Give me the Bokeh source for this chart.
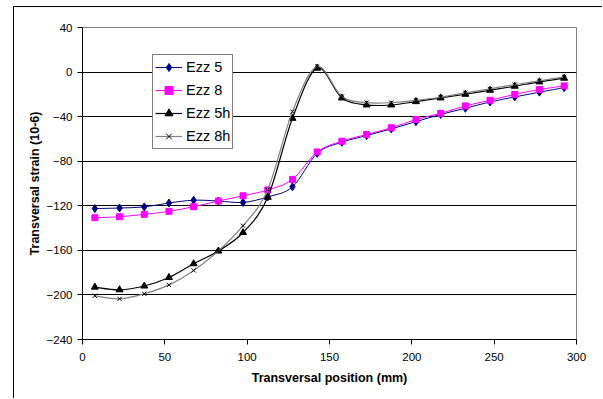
from bokeh.plotting import figure
from bokeh.models import Range1d, FixedTicker, Legend, LegendItem, ColumnDataSource
from bokeh.embed import file_html
from bokeh.resources import INLINE

positions = [7.5, 22.5, 37.5, 52.5, 67.5, 82.5, 97.5, 112.5, 127.5, 142.5,
             157.5, 172.5, 187.5, 202.5, 217.5, 232.5, 247.5, 262.5, 277.5, 292.5]
ezz5 = [-122.5, -122, -121, -117.5, -115, -115.7, -117, -112, -103, -73,
        -63, -57, -51, -44.5, -38, -32.5, -26.8, -22.3, -18, -14]
ezz8 = [-130.7, -129.8, -127.7, -125, -120.8, -115.7, -111, -105.8, -96.3, -71.7,
        -62, -56, -50, -42.6, -37, -30.4, -25.3, -20, -15.7, -12.4]
ezz5h = [-193, -195.4, -192, -184.3, -172, -160.6, -144, -112.4, -41.5, 3.5,
         -23.2, -29.5, -29.5, -26.5, -23.2, -19.9, -16.3, -12.7, -8.8, -5.5]
ezz8h = [-200.8, -203.5, -199, -191, -178, -160.6, -137.9, -105.5, -35.5, 5,
         -22, -27.4, -27.4, -25.3, -22.6, -18.7, -15.1, -11.2, -7.9, -4.3]
series_names = ["Ezz 5", "Ezz 8", "Ezz 5h", "Ezz 8h"]
x_ticks = [0, 50, 100, 150, 200, 250, 300]
y_ticks = [-240, -200, -160, -120, -80, -40, 0, 40]


def bezier_segments(xs, ys):
    d = dict(x0=[], y0=[], x1=[], y1=[], cx0=[], cy0=[], cx1=[], cy1=[])
    n = len(xs)
    for i in range(n - 1):
        x0, y0 = xs[i], ys[i]
        x1, y1 = xs[i + 1], ys[i + 1]
        xp, yp = (xs[i - 1], ys[i - 1]) if i > 0 else (x0, y0)
        xn, yn = (xs[i + 2], ys[i + 2]) if i + 2 < n else (x1, y1)
        d["x0"].append(x0); d["y0"].append(y0)
        d["x1"].append(x1); d["y1"].append(y1)
        d["cx0"].append(x0 + (x1 - xp) / 6.0); d["cy0"].append(y0 + (y1 - yp) / 6.0)
        d["cx1"].append(x1 - (xn - x0) / 6.0); d["cy1"].append(y1 - (yn - y0) / 6.0)
    return ColumnDataSource(d)


FONT = "Liberation Sans"

p = figure(width=589, height=392, output_backend="svg", toolbar_location=None,
           x_range=Range1d(0, 300), y_range=Range1d(-240, 40),
           min_border_left=68, min_border_right=27, min_border_top=20, min_border_bottom=60)
# chart-area border: only its left and top edges fall inside the window
p.margin = (7, 0, 0, 14)
p.styles = {"box-shadow": "-1px -1px 0 0 black"}

p.outline_line_color = "#808080"
p.outline_line_width = 1
p.background_fill_color = "white"
p.border_fill_color = "white"

p.xgrid.visible = False
p.ygrid.ticker = FixedTicker(ticks=y_ticks)
p.ygrid.grid_line_color = "black"
p.ygrid.grid_line_width = 1

p.xaxis.ticker = FixedTicker(ticks=x_ticks)
p.yaxis.ticker = FixedTicker(ticks=y_ticks)
for ax in (p.xaxis[0], p.yaxis[0]):
    ax.axis_line_color = "black"
    ax.major_tick_line_color = "black"
    ax.major_tick_out = 5
    ax.major_tick_in = 0
    ax.minor_tick_line_color = None
    ax.major_label_text_font = FONT
    ax.major_label_text_font_size = "11.5px"
    ax.major_label_text_color = "black"
    ax.axis_label_text_font = FONT
    ax.axis_label_text_font_size = "12.5px"
    ax.axis_label_text_font_style = "bold"
    ax.axis_label_text_color = "black"

p.xaxis.axis_label = "Transversal position (mm)"
p.yaxis.axis_label = "Transversal strain (10-6)"
p.xaxis.major_label_standoff = 8
p.yaxis.major_label_standoff = 5
p.xaxis.axis_label_standoff = 7
p.yaxis.axis_label_standoff = 2

styles = [
    dict(data=ezz5, color="#000080", lc="#000080", marker="diamond", size=8, lw=1.0),
    dict(data=ezz8, color="#FF00FF", lc="#FF00FF", marker="square", size=6, lw=1.0),
    dict(data=ezz5h, color="black", lc="black", marker="triangle", size=7, lw=1.2),
    dict(data=ezz8h, color="black", lc="#808080", marker="x", size=6, lw=1.2),
]

nan = float("nan")
items = []
for name, st in zip(series_names, styles):
    src = bezier_segments(positions, st["data"])
    p.bezier(x0="x0", y0="y0", x1="x1", y1="y1", cx0="cx0", cy0="cy0",
             cx1="cx1", cy1="cy1", source=src, line_color=st["lc"], line_width=st["lw"])
    leg_line = p.line(x=[positions[0], positions[0]], y=[nan, nan],
                      line_color=st["lc"], line_width=st["lw"])
    if st["marker"] == "x":
        sc = p.scatter(x=positions, y=st["data"], marker="x", size=st["size"],
                       line_color=st["color"], line_width=1)
    else:
        sc = p.scatter(x=positions, y=st["data"], marker=st["marker"], size=st["size"],
                       fill_color=st["color"], line_color=st["color"], line_width=1)
    items.append(LegendItem(label=name, renderers=[leg_line, sc]))

legend = Legend(items=items, location=(70, 190))
legend.label_text_font = FONT
legend.label_text_font_size = "14.5px"
legend.label_text_color = "black"
legend.glyph_width = 27
legend.glyph_height = 20
legend.label_height = 20
legend.label_standoff = 4
legend.spacing = 3
legend.padding = 2
legend.margin = 0
legend.border_line_color = "black"
legend.border_line_width = 1
legend.background_fill_color = "white"
legend.background_fill_alpha = 1
p.add_layout(legend)

open("out.html", "w").write(file_html(p, INLINE))
